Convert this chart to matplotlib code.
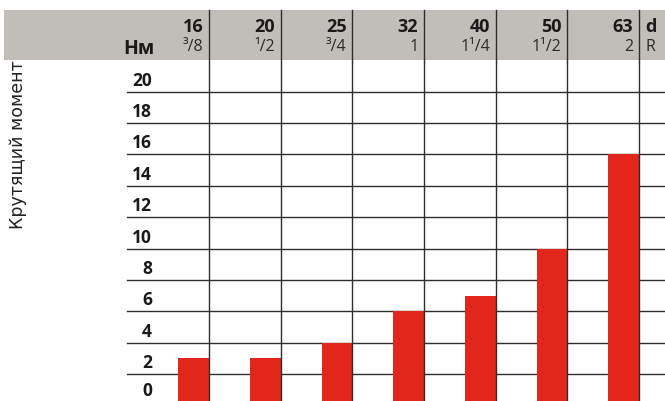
import matplotlib
matplotlib.use("Agg")
import matplotlib.pyplot as plt

# ---- data ----
sizes_d = ["16", "20", "25", "32", "40", "50", "63"]
sizes_r = ["³/8", "¹/2", "³/4", "1", "1¹/4", "1¹/2", "2"]
torque = [3, 3, 4, 6, 7, 10, 16]
y_ticks = [0, 2, 4, 6, 8, 10, 12, 14, 16, 18, 20]
unit_label = "Нм"
y_title = "Крутящий момент"
extra_col = ("d", "R")

# ---- style ----
RED = "#e2261b"
GRAY = "#c1bdb9"
LINE = "#2e2e2e"
TXT = "#1a1a1a"
BOLD_FONT = ["Open Sans", "DejaVu Sans"]

fig = plt.figure(figsize=(6.65, 4.01), dpi=100)
ax = fig.add_axes([0, 0, 1, 1])
ax.axis("off")

x_left, x_right = -2.415, 6.86
y_bot, y_top = 0.29, 25.83
ax.set_xlim(x_left, x_right)
ax.set_ylim(y_bot, y_top)

band_lo, band_hi = 22.0, 25.2
ax.axhspan(band_lo, band_hi, xmin=4 / 665, xmax=1, color=GRAY, lw=0, zorder=0)

# horizontal grid lines + labels sitting on them
grid_x0 = -0.644
for v in y_ticks:
    ax.plot([grid_x0, x_right], [v, v], color=LINE, lw=1.0, zorder=1)
    ax.text(-0.295, max(v + 0.12, y_bot + 0.05), str(v), ha="right", va="bottom",
            fontsize=12.5, fontweight="bold", family=BOLD_FONT, color=TXT, zorder=3)

# bars, right-aligned to the column boundary lines
n = len(sizes_d)
w = 0.43
xs = [i + 0.5 - w / 2 for i in range(n)]
ax.bar(xs, torque, width=w, color=RED, zorder=2, bottom=0)

# vertical lines (column boundaries)
for i in range(n):
    ax.plot([i + 0.5, i + 0.5], [y_bot, band_hi], color=LINE, lw=1.0, zorder=4)

# header texts
for i, (d, r) in enumerate(zip(sizes_d, sizes_r)):
    ax.text(i + 0.5 - 0.08, 23.55, d, ha="right", va="bottom", fontsize=13,
            fontweight="bold", family=BOLD_FONT, color=TXT, zorder=5)
    ax.text(i + 0.5 - 0.08, 22.3, r, ha="right", va="bottom", fontsize=11.5,
            family=BOLD_FONT, color="#2a2a2a", zorder=5)
ax.text(n - 0.5 + 0.08, 23.55, extra_col[0], ha="left", va="bottom", fontsize=13,
        fontweight="bold", family=BOLD_FONT, color=TXT, zorder=5)
ax.text(n - 0.5 + 0.09, 22.3, extra_col[1], ha="left", va="bottom", fontsize=11.5,
        family=BOLD_FONT, color="#2a2a2a", zorder=5)

ax.text(-0.70, 22.05, unit_label, ha="left", va="bottom", fontsize=14,
        fontweight="bold", family=BOLD_FONT, color=TXT, zorder=5)

ax.text(-2.157, 16.6, y_title, rotation=90, ha="center", va="center",
        fontsize=12.5, family=["DejaVu Sans"], color="#222222")

fig.savefig("out.png", dpi=100)
